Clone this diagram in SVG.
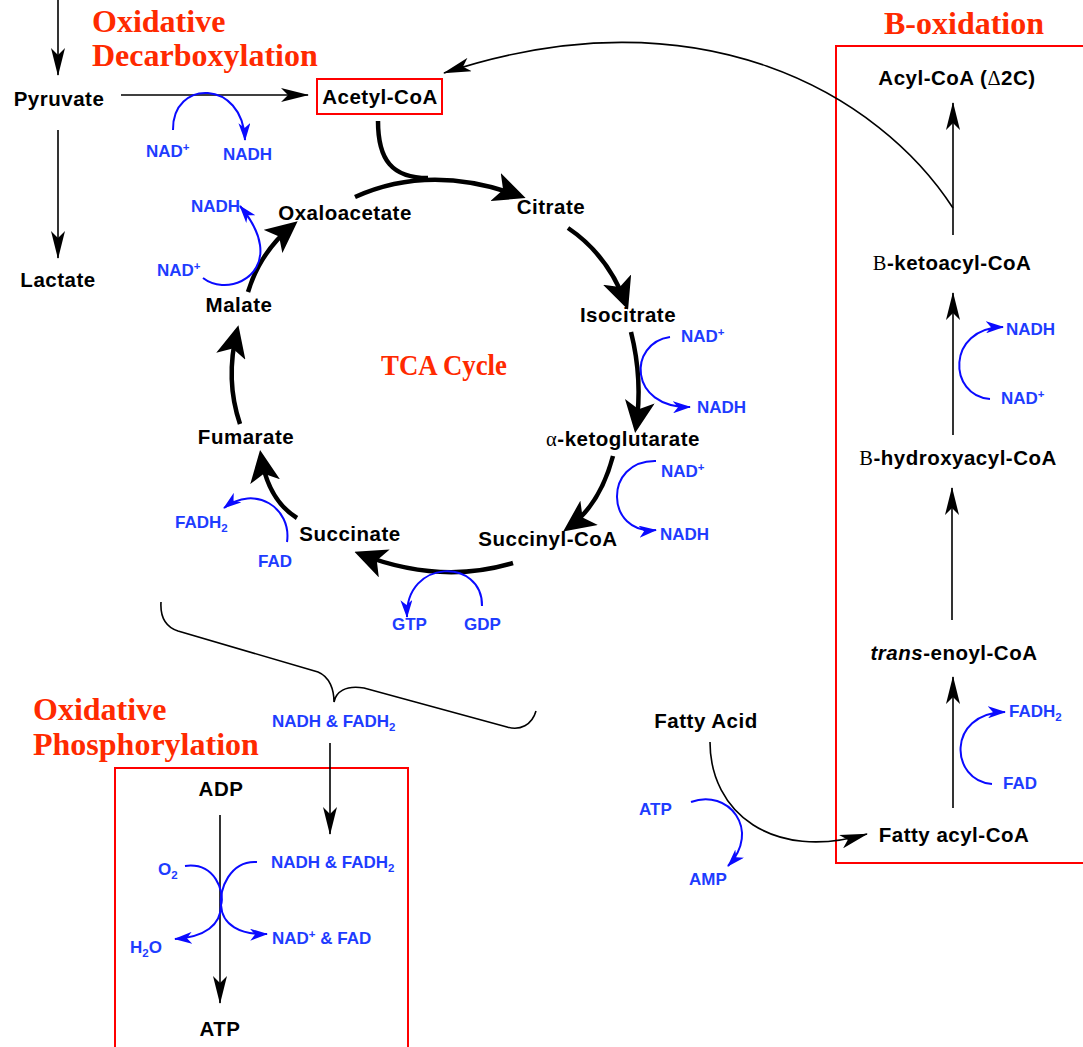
<svg xmlns="http://www.w3.org/2000/svg" width="1083" height="1047" viewBox="0 0 1083 1047">
<style>
.n{font-family:"Liberation Sans",Arial,sans-serif;font-weight:bold;font-size:20.5px;letter-spacing:0.5px;fill:#000;text-anchor:middle}
.b{font-family:"Liberation Sans",Arial,sans-serif;font-weight:bold;font-size:17px;fill:#1e3cff}
.r{font-family:"Liberation Serif","Times New Roman",serif;font-weight:bold;font-size:32px;fill:#ff2a00}
.s{font-family:"Liberation Serif","Times New Roman",serif;font-weight:normal}
.sup{font-size:11.5px}
.ln{fill:none;stroke:#000;stroke-width:1.6}
.tk{fill:none;stroke:#000;stroke-width:4.5}
.bl{fill:none;stroke:#0a0aff;stroke-width:2}
.box{fill:none;stroke:#ff0000;stroke-width:2}
</style>
<defs>
<marker id="ah" markerUnits="userSpaceOnUse" markerWidth="28" markerHeight="14" viewBox="0 0 28 14" refX="27" refY="7" orient="auto"><path d="M0,0 L28,7 L0,14 L7,7 z" fill="#000"/></marker>
<marker id="big" markerUnits="userSpaceOnUse" markerWidth="32" markerHeight="30" viewBox="0 0 32 30" refX="26" refY="15" orient="auto"><path d="M0,0 L32,15 L0,30 L8,15 z" fill="#000"/></marker>
<marker id="bh" markerUnits="userSpaceOnUse" markerWidth="18" markerHeight="12" viewBox="0 0 18 12" refX="17" refY="6" orient="auto"><path d="M0,0 L18,6 L0,12 L5,6 z" fill="#0a0aff"/></marker>
</defs>
<rect width="1083" height="1047" fill="#fff"/>

<g id="labels">
<text class="r" x="92" y="32">Oxidative</text>
<text class="r" x="92" y="66">Decarboxylation</text>
<text class="r" x="884" y="34">B-oxidation</text>
<text class="r" x="381" y="375" style="font-size:30px" textLength="126" lengthAdjust="spacingAndGlyphs">TCA Cycle</text>
<text class="r" x="33" y="720">Oxidative</text>
<text class="r" x="33" y="755">Phosphorylation</text>
</g>

<g id="boxes">
<rect class="box" x="836" y="46" width="260" height="817"/>
<rect class="box" x="115" y="768" width="293" height="300"/>
</g>

<g id="connectors">
<path class="ln" d="M58,0 L58,75" marker-end="url(#ah)"/>
<path class="ln" d="M58,130 L58,258" marker-end="url(#ah)"/>
<path class="ln" d="M121,95 L308,95" marker-end="url(#ah)"/>
<path class="ln" d="M953,208 C880,95 700,-12 444,73" marker-end="url(#ah)"/>
<path class="ln" d="M220,815 L220,1003" marker-end="url(#ah)"/>
<path class="ln" d="M330,743 L330,834" marker-end="url(#ah)"/>
<path class="ln" d="M953,808 L953,677" marker-end="url(#ah)"/>
<path class="ln" d="M952,620 L952,488" marker-end="url(#ah)"/>
<path class="ln" d="M953,435 L953,293" marker-end="url(#ah)"/>
<path class="ln" d="M953,235 L953,103" marker-end="url(#ah)"/>
<path class="ln" d="M710,742 C710,812 772,862 867,834" marker-end="url(#ah)"/>
<path class="ln" d="M161,602 C160,618 166,627 178,631 L318,672 C330,677 334,690 334,702 C336,692 345,685 364,688 L507,727 C520,731 532,725 536,711"/>

<path class="tk" d="M378,121 C378,160 392,178 428,178"/>
<path class="tk" d="M355,197 Q430,163 520,196" marker-end="url(#big)"/>
<path class="tk" d="M568,228 Q608,255 626,304" marker-end="url(#big)"/>
<path class="tk" d="M631,332 Q643,380 636,427" marker-end="url(#big)"/>
<path class="tk" d="M613,456 Q600,505 568,528" marker-end="url(#big)"/>
<path class="tk" d="M513,563 Q440,585 360,554" marker-end="url(#big)"/>
<path class="tk" d="M297,518 Q268,500 261,456" marker-end="url(#big)"/>
<path class="tk" d="M240,424 Q225,380 237,331" marker-end="url(#big)"/>
<path class="tk" d="M248,292 Q260,252 293,225" marker-end="url(#big)"/>

<path class="bl" d="M173,130 C172,79 243,79 245,140" marker-end="url(#bh)"/>
<path class="bl" d="M203,278 C225,295 265,280 260,245 C258,230 250,218 240,206" marker-end="url(#bh)"/>
<path class="bl" d="M670,337 C628,343 628,408 690,407" marker-end="url(#bh)"/>
<path class="bl" d="M656,461 C603,460 605,535 656,530" marker-end="url(#bh)"/>
<path class="bl" d="M287,542 C292,508 255,484 224,508" marker-end="url(#bh)"/>
<path class="bl" d="M482,606 C483,558 405,558 407,617" marker-end="url(#bh)"/>
<path class="bl" d="M185,866 C215,862 225,892 221,905 C221,925 205,937 175,939" marker-end="url(#bh)"/>
<path class="bl" d="M257,862 C230,860 219,890 221,905 C222,925 240,935 267,934" marker-end="url(#bh)"/>
<path class="bl" d="M990,399 C948,396 946,328 1003,327" marker-end="url(#bh)"/>
<path class="bl" d="M992,784 C950,781 946,713 1005,712" marker-end="url(#bh)"/>
<path class="bl" d="M691,802 C728,788 762,830 728,866" marker-end="url(#bh)"/>
</g>

<g id="pyruvate"><text class="n" x="59" y="106">Pyruvate</text></g>
<g id="lactate"><text class="n" x="58" y="287">Lactate</text></g>
<g id="acetyl-coa"><rect class="box" x="317" y="79" width="125" height="35"/><text class="n" x="380" y="104">Acetyl-CoA</text></g>
<g id="citrate"><text class="n" x="551" y="214">Citrate</text></g>
<g id="isocitrate"><text class="n" x="628" y="322">Isocitrate</text></g>
<g id="akg"><text class="n" x="623" y="446"><tspan class="s">α</tspan>-ketoglutarate</text></g>
<g id="succinyl-coa"><text class="n" x="548" y="546">Succinyl-CoA</text></g>
<g id="succinate"><text class="n" x="350" y="541">Succinate</text></g>
<g id="fumarate"><text class="n" x="246" y="444">Fumarate</text></g>
<g id="malate"><text class="n" x="239" y="312">Malate</text></g>
<g id="oxaloacetate"><text class="n" x="345" y="220">Oxaloacetate</text></g>
<g id="adp"><text class="n" x="221" y="796">ADP</text></g>
<g id="atp"><text class="n" x="220" y="1036">ATP</text></g>
<g id="fatty-acid"><text class="n" x="706" y="728">Fatty Acid</text></g>
<g id="fatty-acyl-coa"><text class="n" x="954" y="842">Fatty acyl-CoA</text></g>
<g id="trans-enoyl-coa"><text class="n" x="954" y="660"><tspan font-style="italic">trans</tspan>-enoyl-CoA</text></g>
<g id="hydroxyacyl-coa"><text class="n" x="958" y="465"><tspan class="s">B</tspan>-hydroxyacyl-CoA</text></g>
<g id="ketoacyl-coa"><text class="n" x="952" y="270"><tspan class="s">B</tspan>-ketoacyl-CoA</text></g>
<g id="acyl-coa"><text class="n" x="957" y="85">Acyl-CoA (<tspan class="s">Δ</tspan>2C)</text></g>

<g id="cofactors">
<text class="b" x="146" y="157">NAD<tspan class="sup" dy="-6">+</tspan></text>
<text class="b" x="223" y="160">NADH</text>
<text class="b" x="191" y="212">NADH</text>
<text class="b" x="157" y="276">NAD<tspan class="sup" dy="-6">+</tspan></text>
<text class="b" x="681" y="342">NAD<tspan class="sup" dy="-6">+</tspan></text>
<text class="b" x="697" y="413">NADH</text>
<text class="b" x="661" y="477">NAD<tspan class="sup" dy="-6">+</tspan></text>
<text class="b" x="660" y="540">NADH</text>
<text class="b" x="175" y="528">FADH<tspan class="sup" dy="4">2</tspan></text>
<text class="b" x="258" y="567">FAD</text>
<text class="b" x="392" y="630">GTP</text>
<text class="b" x="464" y="630">GDP</text>
<text class="b" x="272" y="727">NADH &amp; FADH<tspan class="sup" dy="4">2</tspan></text>
<text class="b" x="158" y="875">O<tspan class="sup" dy="4">2</tspan></text>
<text class="b" x="271" y="868">NADH &amp; FADH<tspan class="sup" dy="4">2</tspan></text>
<text class="b" x="130" y="953">H<tspan class="sup" dy="4">2</tspan><tspan dy="-4">O</tspan></text>
<text class="b" x="272" y="944">NAD<tspan class="sup" dy="-6">+</tspan><tspan dy="6"> &amp; FAD</tspan></text>
<text class="b" x="639" y="815">ATP</text>
<text class="b" x="689" y="885">AMP</text>
<text class="b" x="1006" y="335">NADH</text>
<text class="b" x="1001" y="404">NAD<tspan class="sup" dy="-6">+</tspan></text>
<text class="b" x="1009" y="717">FADH<tspan class="sup" dy="4">2</tspan></text>
<text class="b" x="1003" y="789">FAD</text>
</g>
</svg>
